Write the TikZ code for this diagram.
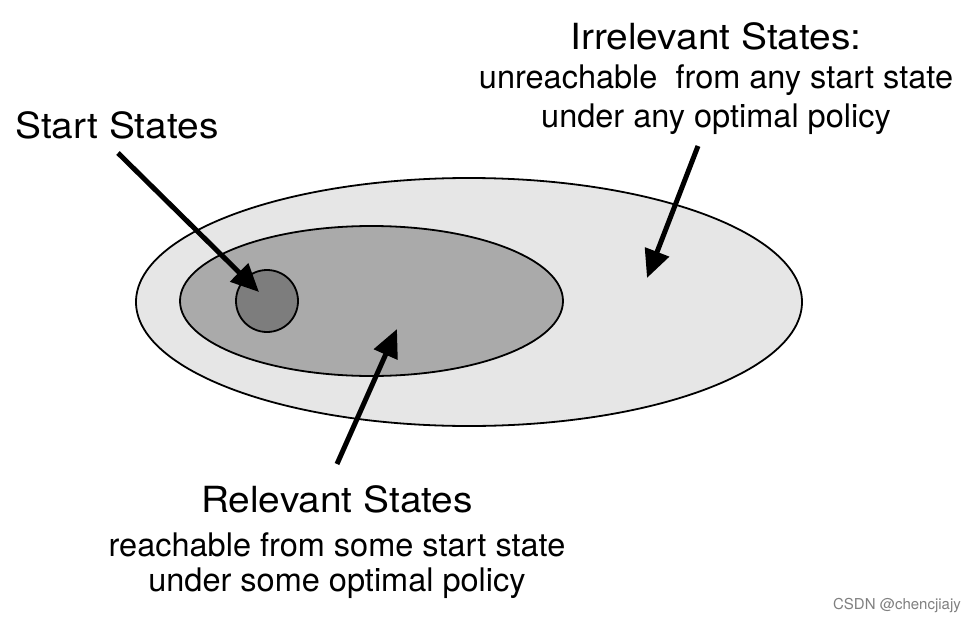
\documentclass[tikz,border=0pt]{standalone}
\usepackage{fontspec}
\setmainfont{TeX Gyre Heros}
\newfontfamily\titlefont[FakeStretch=1.08]{TeX Gyre Heros}
\usetikzlibrary{arrows.meta}
\definecolor{outerfill}{HTML}{E6E6E6}
\definecolor{midfill}{HTML}{AAAAAA}
\definecolor{innerfill}{HTML}{7D7D7D}
\begin{document}
\begin{tikzpicture}[x=1pt,y=-1pt,
  region/.style={draw=black,line width=1.8pt},
  pointer/.style={line width=5pt,-{Triangle[length=28pt,width=25pt]}},
  title/.style={font=\titlefont\fontsize{36}{40}\selectfont,inner sep=0pt},
  sub/.style={font=\fontsize{32.5}{36}\selectfont,inner sep=0pt}]
\useasboundingbox (0,0) rectangle (978,624);
\fill[white] (0,0) rectangle (978,624);
\draw[region,fill=outerfill] (469,302) ellipse [x radius=333,y radius=124];
\draw[region,fill=midfill] (371.5,301) ellipse [x radius=191.5,y radius=75];
\node[region,fill=innerfill,circle,minimum size=62pt,inner sep=0pt] (start) at (267,301) {};
\node[title] (tstart) at (117,125) {Start States};
\node[title] (tirr) at (716,36) {Irrelevant States:};
\node[sub] (tirr1) at (716,80) {unreachable\ \ from any start state};
\node[sub] (tirr2) at (716,119) {under any optimal policy};
\node[title] (trel) at (337,499) {Relevant States};
\node[sub] (trel1) at (337,545) {reachable from some start state};
\node[sub] (trel2) at (337,583) {under some optimal policy};
\node[font=\fontsize{15}{17}\selectfont,text=gray,inner sep=0pt] (wm) at (897,606) {CSDN @chencjiajy};
\coordinate (a1s) at (118,153); \coordinate (a1e) at (259,292);
\coordinate (a2s) at (698,146); \coordinate (a2e) at (647,278);
\coordinate (a3s) at (337,464); \coordinate (a3e) at (397,329);
\draw[pointer] (a1s) -- (a1e);
\draw[pointer] (a2s) -- (a2e);
\draw[pointer] (a3s) -- (a3e);
\end{tikzpicture}
\end{document}
